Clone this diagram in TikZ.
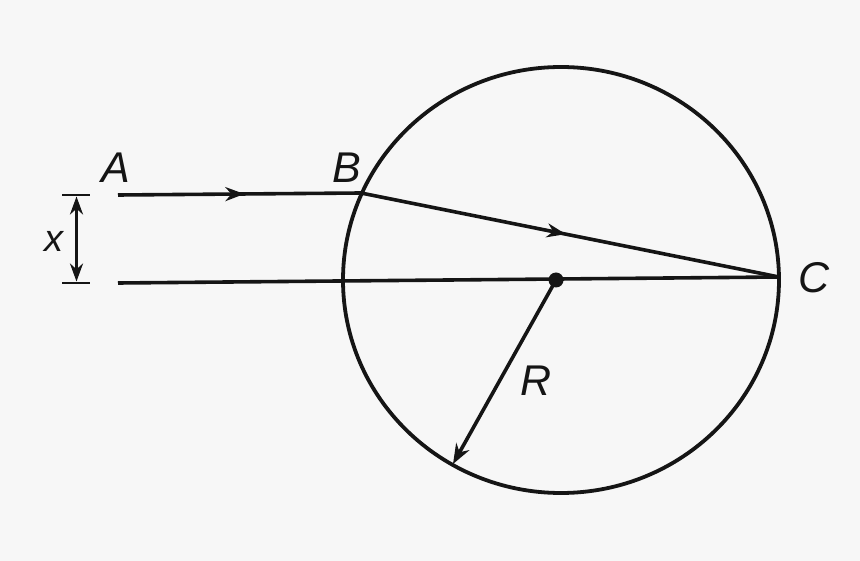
\documentclass[tikz,border=0pt]{standalone}
\usepackage{fontspec}
\setmainfont{Liberation Sans}
\usetikzlibrary{arrows.meta,decorations.markings}
\definecolor{bg}{HTML}{F7F7F7}
\definecolor{ink}{HTML}{151515}
\begin{document}
\begin{tikzpicture}[x=1pt,y=-1pt, color=ink,
  lbl/.style={font=\fontsize{43}{43}\selectfont\itshape, inner sep=0pt, text=ink},
  ray/.style={line width=3.6pt},
  midarrow/.style={postaction={decorate},decoration={markings,mark=at position #1 with {\arrow{Stealth[length=19pt,width=14pt]}}}},
]
\fill[bg] (0,0) rectangle (860,561);
\useasboundingbox (0,0) rectangle (860,561);
\coordinate (A0) at (118,195);
\coordinate (B0) at (361,193);
\coordinate (C0) at (779,277);
\coordinate (L0) at (118,283);
\coordinate (O) at (556,280);
\coordinate (Rend) at (453,464);
\coordinate (T1a) at (62,195);
\coordinate (T1b) at (90,195);
\coordinate (T2a) at (62,283);
\coordinate (T2b) at (90,283);
\coordinate (D1) at (76.5,196.5);
\coordinate (D2) at (76.5,281.5);
% circle
\draw[line width=3.8pt] (561,280) ellipse [x radius=218, y radius=213];
% rays
\draw[ray, midarrow=0.52] (A0) -- (B0);
\draw[ray, midarrow=0.49] (B0) -- (C0);
\draw[ray] (L0) -- (C0);
% radius
\draw[ray, -{Stealth[length=20pt,width=15pt]}] (O) -- (Rend);
\fill (O) circle (7.5);
% dimension
\draw[line width=2.4pt] (T1a) -- (T1b);
\draw[line width=2.4pt] (T2a) -- (T2b);
\draw[line width=3pt, {Stealth[length=18pt,width=13pt]}-{Stealth[length=18pt,width=13pt]}] (D1) -- (D2);
% labels
\node[lbl] (lA) at (116,168) {A};
\node[lbl] (lB) at (347,168) {B};
\node[lbl] (lC) at (814,278) {C};
\node[lbl] (lR) at (536,381) {R};
\node[lbl, font=\fontsize{38}{38}\selectfont\itshape] (lx) at (54,241) {x};
\end{tikzpicture}
\end{document}
